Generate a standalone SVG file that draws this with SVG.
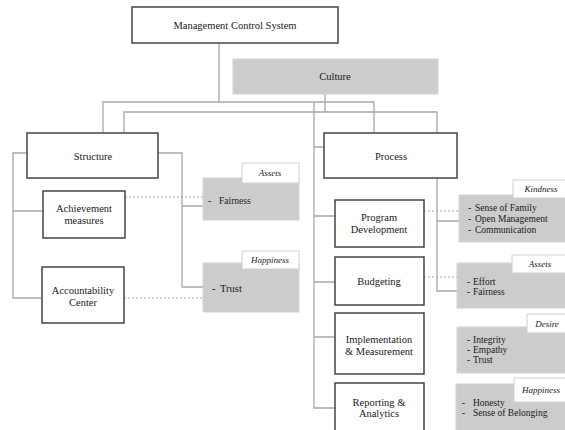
<svg xmlns="http://www.w3.org/2000/svg" width="565" height="430" viewBox="0 0 565 430">
<style>
.box{fill:#fff;stroke:#444;stroke-width:1.5}
.gbox{fill:#cccccc;stroke:#d4d4d4;stroke-width:1}
.tab{fill:#fff;stroke:#d0d0d0;stroke-width:1}
.t{font-family:"Liberation Serif","Times New Roman",serif;font-size:10.5px;fill:#1a1a1a;text-anchor:middle}
.b{font-family:"Liberation Serif","Times New Roman",serif;font-size:9.5px;fill:#1a1a1a}
.i{font-family:"Liberation Serif","Times New Roman",serif;font-size:9px;font-style:italic;fill:#1a1a1a;text-anchor:middle}
.c{fill:none;stroke:#a8a8a8;stroke-width:1.3}
.d{fill:none;stroke:#a8a8a8;stroke-width:1.2;stroke-dasharray:2 2}
</style>
<rect width="565" height="430" fill="#fff"/>
<g id="connectors">
<path class="c" d="M219 43V102M103 133V102H374V133M325 94V112M124 133V112H437V133"/>
<path class="c" d="M27 153H13V298H42M13 211H43"/>
<path class="c" d="M158 153H182V287H203M182 206H203"/>
<path class="c" d="M314 102V408H335M314 147H324M314 216H335M314 282H335M314 337H335"/>
<path class="c" d="M437 178V291H457M437 221H459"/>
<path class="d" d="M125 197H203M124 298H203M424 211H459M424 277H457"/>
</g>
<g id="mcs"><rect class="box" x="132" y="7" width="206" height="36"/><text class="t" x="235" y="29">Management Control System</text></g>
<g id="culture"><rect class="gbox" x="233" y="59" width="205" height="35"/><text class="t" x="335" y="80">Culture</text></g>
<g id="structure"><rect class="box" x="27" y="133" width="131" height="45"/><text class="t" x="93" y="160">Structure</text></g>
<g id="process"><rect class="box" x="324" y="133" width="133" height="45"/><text class="t" x="391" y="160">Process</text></g>
<g id="achievement"><rect class="box" x="43" y="191" width="82" height="47"/><text class="t" x="84" y="212">Achievement</text><text class="t" x="84" y="224">measures</text></g>
<g id="accountability"><rect class="box" x="42" y="267" width="82" height="56"/><text class="t" x="83" y="294">Accountability</text><text class="t" x="83" y="306">Center</text></g>
<g id="program"><rect class="box" x="335" y="200" width="89" height="47"/><text class="t" x="379" y="221">Program</text><text class="t" x="379" y="233">Development</text></g>
<g id="budgeting"><rect class="box" x="335" y="257" width="89" height="48"/><text class="t" x="379" y="285">Budgeting</text></g>
<g id="implementation"><rect class="box" x="335" y="313" width="89" height="61"/><text class="t" x="379" y="343">Implementation</text><text class="t" x="379" y="355">&amp; Measurement</text></g>
<g id="reporting"><rect class="box" x="335" y="383" width="89" height="52"/><text class="t" x="379" y="406">Reporting &amp;</text><text class="t" x="379" y="417">Analytics</text></g>
<g id="assets1"><rect class="gbox" x="203" y="178" width="96" height="42"/><rect class="tab" x="242" y="163" width="57" height="20"/><text class="i" x="270" y="176">Assets</text><text class="b" x="208" y="204">-</text><text class="b" x="219" y="204">Fairness</text></g>
<g id="happiness1"><rect class="gbox" x="203" y="263" width="96" height="49"/><rect class="tab" x="242" y="251" width="57" height="18"/><text class="i" x="270" y="263">Happiness</text><text class="b" x="212" y="292" style="font-size:10.5px">-</text><text class="b" x="220" y="292" style="font-size:10.5px">Trust</text></g>
<g id="kindness"><rect class="gbox" x="459" y="195" width="108" height="47"/><rect class="tab" x="513" y="180" width="54" height="18"/><text class="i" x="541" y="192">Kindness</text><text class="b" x="468" y="211">-</text><text class="b" x="475" y="211">Sense of Family</text><text class="b" x="468" y="222">-</text><text class="b" x="475" y="222">Open Management</text><text class="b" x="468" y="233">-</text><text class="b" x="475" y="233">Communication</text></g>
<g id="assets2"><rect class="gbox" x="457" y="263" width="110" height="45"/><rect class="tab" x="512" y="255" width="55" height="18"/><text class="i" x="540" y="267">Assets</text><text class="b" x="467" y="285">-</text><text class="b" x="473" y="285">Effort</text><text class="b" x="467" y="295">-</text><text class="b" x="473" y="295">Fairness</text></g>
<g id="desire"><rect class="gbox" x="457" y="327" width="110" height="46"/><rect class="tab" x="527" y="314" width="40" height="19"/><text class="i" x="547" y="327">Desire</text><text class="b" x="467" y="343">-</text><text class="b" x="473" y="343">Integrity</text><text class="b" x="467" y="353">-</text><text class="b" x="473" y="353">Empathy</text><text class="b" x="467" y="363">-</text><text class="b" x="473" y="363">Trust</text></g>
<g id="happiness2"><rect class="gbox" x="456" y="384" width="111" height="50"/><rect class="tab" x="514" y="378" width="53" height="24"/><text class="i" x="541" y="393">Happiness</text><text class="b" x="462" y="406">-</text><text class="b" x="473" y="406">Honesty</text><text class="b" x="462" y="416">-</text><text class="b" x="473" y="416">Sense of Belonging</text></g>
</svg>
